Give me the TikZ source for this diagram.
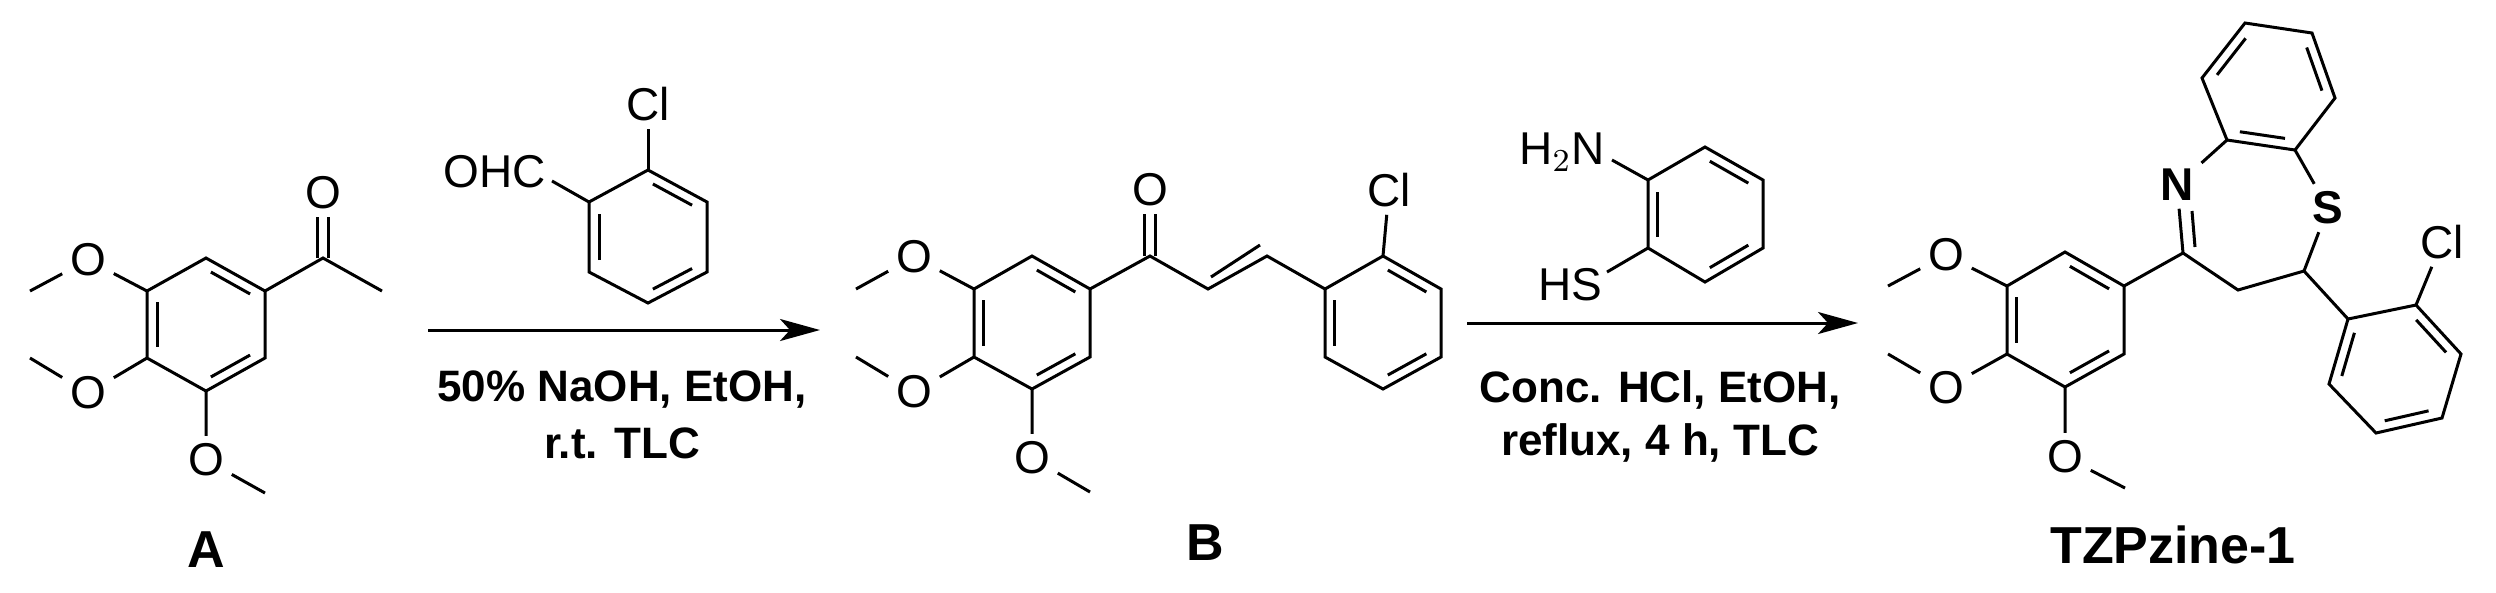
\documentclass[tikz,border=0pt]{standalone}
\usepackage{fontspec}
\setmainfont{Liberation Sans}
\usetikzlibrary{calc,arrows.meta}
\newcommand\ringdb[3]{\draw ($($(#1)!0.17!(#3)$)!0.1!($(#2)!0.17!(#3)$)$) -- ($($(#2)!0.17!(#3)$)!0.1!($(#1)!0.17!(#3)$)$);}
\begin{document}
\begin{tikzpicture}[x=0.25pt,y=-0.25pt,line width=0.75pt,
  atom/.style={inner sep=1.6pt,font=\fontsize{11.5pt}{13pt}\selectfont},
  cond/.style={font=\fontsize{11pt}{13pt}\selectfont\bfseries,align=center},
  cmpd/.style={font=\fontsize{13pt}{15pt}\selectfont\bfseries},
  rxn/.style={-{Stealth[length=10pt,width=5.5pt,inset=2.5pt]}}]
\useasboundingbox (0,0) rectangle (2496,592);
% ---------- A ----------
\coordinate (a1) at (206,258); \coordinate (a2) at (265,291); \coordinate (a3) at (265,358);
\coordinate (a4) at (206,391); \coordinate (a5) at (147,358); \coordinate (a6) at (147,291);
\coordinate (ac) at (206,324.5);
\coordinate (aC) at (323,258); \coordinate (aMe) at (382,291);
\node[atom] (aO) at (323,193) {O};
\node[atom] (aO1) at (88,260) {O}; \coordinate (aM1) at (30,291);
\node[atom] (aO2) at (88,393) {O}; \coordinate (aM2) at (30,358);
\node[atom] (aO3) at (206,460) {O}; \coordinate (aM3) at (265,493);
\draw (a1)--(a2)--(a3)--(a4)--(a5)--(a6)--cycle;
\ringdb{a1}{a2}{ac}\ringdb{a5}{a6}{ac}\ringdb{a3}{a4}{ac}
\draw (a2)--(aC)--(aMe);
\draw ([xshift=-1.4pt]aC) -- ([xshift=-1.4pt]aO.south); \draw ([xshift=1.4pt]aC) -- ([xshift=1.4pt]aO.south);
\draw (a6)--(aO1)--(aM1); \draw (a5)--(aO2)--(aM2); \draw (a4)--(aO3)--(aM3);
\node[cmpd] (lA) at (206,550) {A};
% ---------- reagent 1 ----------
\coordinate (r1) at (648,170); \coordinate (r2) at (707,202); \coordinate (r3) at (707,272);
\coordinate (r4) at (648,303); \coordinate (r5) at (589,272); \coordinate (r6) at (589,202);
\coordinate (rc) at (648,236.5);
\draw (r1)--(r2)--(r3)--(r4)--(r5)--(r6)--cycle;
\ringdb{r1}{r2}{rc}\ringdb{r5}{r6}{rc}\ringdb{r3}{r4}{rc}
\node[atom] (rCl) at (648,104) {Cl}; \draw (r1)--(rCl);
\node[atom] (rOHC) at (495,172) {OHC}; \coordinate (rOe) at (552,181); \draw (r6)--(rOe);
\coordinate (ar1s) at (428,330); \coordinate (ar1e) at (820,330);
\draw[rxn] (ar1s)--(ar1e);
\node[cond] (c1a) at (622,390) {50\% NaOH, EtOH,};
\node[cond] (c1b) at (622,443) {r.t. TLC};
% ---------- B ----------
\coordinate (b1) at (1032,256); \coordinate (b2) at (1090,289); \coordinate (b3) at (1090,357);
\coordinate (b4) at (1032,389); \coordinate (b5) at (974,357); \coordinate (b6) at (974,289);
\coordinate (bc) at (1032,322.5);
\draw (b1)--(b2)--(b3)--(b4)--(b5)--(b6)--cycle;
\ringdb{b1}{b2}{bc}\ringdb{b5}{b6}{bc}\ringdb{b3}{b4}{bc}
\coordinate (bC) at (1150,256); \node[atom] (bO) at (1150,190) {O};
\coordinate (ba) at (1208,289); \coordinate (bb) at (1267,256);
\coordinate (p1) at (1325,289); \coordinate (p2) at (1383,256); \coordinate (p3) at (1441,289);
\coordinate (p4) at (1441,357); \coordinate (p5) at (1383,389); \coordinate (p6) at (1325,357);
\coordinate (pc) at (1383,322.5);
\draw (b2)--(bC)--(ba)--(bb)--(p1);
\draw ([xshift=-1.4pt]bC) -- ([xshift=-1.4pt]bO.south); \draw ([xshift=1.4pt]bC) -- ([xshift=1.4pt]bO.south);
\coordinate (bd1) at (1211,277); \coordinate (bd2) at (1260,245); \draw (bd1)--(bd2);
\draw (p1)--(p2)--(p3)--(p4)--(p5)--(p6)--cycle;
\ringdb{p2}{p3}{pc}\ringdb{p6}{p1}{pc}\ringdb{p4}{p5}{pc}
\node[atom] (bCl) at (1389,190) {Cl}; \draw (p2)--(bCl);
\node[atom] (bO1) at (914,257) {O}; \coordinate (bM1) at (856,289);
\node[atom] (bO2) at (914,392) {O}; \coordinate (bM2) at (856,357);
\node[atom] (bO3) at (1032,458) {O}; \coordinate (bM3) at (1090,492);
\draw (b6)--(bO1)--(bM1); \draw (b5)--(bO2)--(bM2); \draw (b4)--(bO3)--(bM3);
\node[cmpd] (lB) at (1205,543) {B};
% ---------- reagent 2 ----------
\coordinate (s1) at (1648,180); \coordinate (s2) at (1705,147); \coordinate (s3) at (1763,180);
\coordinate (s4) at (1763,248); \coordinate (s5) at (1705,282); \coordinate (s6) at (1648,248);
\coordinate (sc) at (1705,214.5);
\draw (s1)--(s2)--(s3)--(s4)--(s5)--(s6)--cycle;
\ringdb{s2}{s3}{sc}\ringdb{s6}{s1}{sc}\ringdb{s4}{s5}{sc}
\node[atom] (sN) at (1562,152) {H$_2$N}; \coordinate (sNe) at (1612,160); \draw (s1)--(sNe);
\node[atom] (sS) at (1570,285) {HS}; \coordinate (sSe) at (1607,272); \draw (s6)--(sSe);
\coordinate (ar2s) at (1467,323); \coordinate (ar2e) at (1858,323);
\draw[rxn] (ar2s)--(ar2e);
\node[cond] (c2a) at (1660,390) {Conc. HCl, EtOH,};
\node[cond] (c2b) at (1660,443) {reflux, 4 h, TLC};
% ---------- TZPzine-1 ----------
\coordinate (t1) at (2065,252); \coordinate (t2) at (2124,286); \coordinate (t3) at (2124,354);
\coordinate (t4) at (2065,387); \coordinate (t5) at (2007,354); \coordinate (t6) at (2007,286);
\coordinate (tc) at (2065,319.5);
\draw (t1)--(t2)--(t3)--(t4)--(t5)--(t6)--cycle;
\ringdb{t1}{t2}{tc}\ringdb{t5}{t6}{tc}\ringdb{t3}{t4}{tc}
\node[atom] (tO1) at (1946,255) {O}; \coordinate (tM1) at (1888,286);
\node[atom] (tO2) at (1946,388) {O}; \coordinate (tM2) at (1888,354);
\node[atom] (tO3) at (2065,457) {O}; \coordinate (tM3) at (2125,488);
\draw (t6)--(tO1)--(tM1); \draw (t5)--(tO2)--(tM2); \draw (t4)--(tO3)--(tM3);
\coordinate (tC) at (2183,253); \coordinate (tH2) at (2238,290); \coordinate (tH) at (2304,271);
\node[atom,font=\fontsize{11.5pt}{13pt}\selectfont\bfseries] (tN) at (2177,185) {N};
\node[atom,font=\fontsize{11.5pt}{13pt}\selectfont\bfseries] (tS) at (2328,208) {S};
\draw (t2)--(tC)--(tH2)--(tH);
\draw (tC)--(tN);
\coordinate (tn1) at (2192,211); \coordinate (tn2) at (2195,247); \draw (tn1)--(tn2);
\coordinate (k1) at (2227,140); \coordinate (k2) at (2295,150); \coordinate (k3) at (2335,98);
\coordinate (k4) at (2312,33); \coordinate (k5) at (2245,23); \coordinate (k6) at (2202,78);
\coordinate (kc) at ($(k1)!0.5!(k4)$);
\draw (k1)--(k2)--(k3)--(k4)--(k5)--(k6)--cycle;
\ringdb{k1}{k2}{kc}\ringdb{k3}{k4}{kc}\ringdb{k5}{k6}{kc}
\draw (k1)--(tN); \draw (k2)--(tS); \draw (tS)--(tH);
\coordinate (q1) at (2348,319); \coordinate (q2) at (2416,305); \coordinate (q3) at (2461,354);
\coordinate (q4) at (2442,418); \coordinate (q5) at (2376,433); \coordinate (q6) at (2329,384);
\coordinate (qc) at ($(q1)!0.5!(q4)$);
\draw (tH)--(q1);
\draw (q1)--(q2)--(q3)--(q4)--(q5)--(q6)--cycle;
\ringdb{q2}{q3}{qc}\ringdb{q6}{q1}{qc}\ringdb{q4}{q5}{qc}
\node[atom] (tCl) at (2442,242) {Cl}; \draw (q2)--(tCl);
\node[cmpd] (lT) at (2173,545) {TZPzine-1};
\end{tikzpicture}
\end{document}
